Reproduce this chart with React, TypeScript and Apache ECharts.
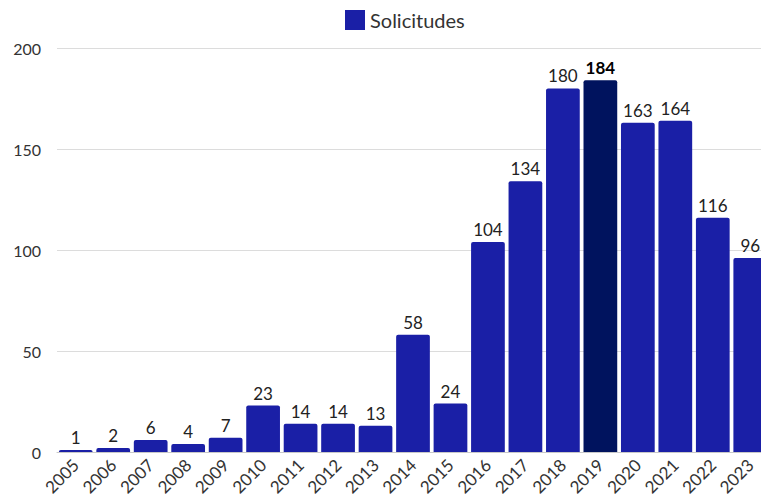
import React, { useEffect, useRef } from "react";
import * as echarts from "echarts";

const years = ["2005","2006","2007","2008","2009","2010","2011","2012","2013","2014","2015","2016","2017","2018","2019","2020","2021","2022","2023"];
const solicitudes = [1,2,6,4,7,23,14,14,13,58,24,104,134,180,184,163,164,116,96];
const highlightYear = "2019";

const FONT = "Lato";

export default function App() {
  const ref = useRef<HTMLDivElement>(null);
  useEffect(() => {
    if (!ref.current) return;
    const chart = echarts.init(ref.current, null, { renderer: "svg" });
    chart.setOption({
      animation: false,
      textStyle: { fontFamily: FONT },
      legend: {
        left: 340,
        top: 5,
        itemWidth: 20,
        itemHeight: 20,
        itemGap: 13,
        icon: "rect",
        textStyle: { fontSize: 20, color: "#333", fontFamily: FONT },
        data: ["Solicitudes"],
      },
      grid: { left: 57, top: 48, width: 712, bottom: 52, containLabel: false },
      xAxis: {
        type: "category",
        data: years,
        axisTick: { show: false },
        axisLine: { lineStyle: { color: "#c8c8c8", width: 1 } },
        axisLabel: { rotate: 45, fontSize: 17, color: "#333", margin: 10, interval: 0, fontFamily: FONT },
      },
      yAxis: {
        type: "value",
        min: 0,
        max: 200,
        interval: 50,
        axisLabel: { fontSize: 16, color: "#333", margin: 16, fontFamily: FONT },
        splitLine: { lineStyle: { color: "#dcdcdc", width: 1 } },
        axisLine: { show: false },
        axisTick: { show: false },
      },
      series: [
        {
          name: "Solicitudes",
          type: "bar",
          barCategoryGap: "10%",
          itemStyle: { color: "#1a1fa6", borderRadius: [2, 2, 0, 0] },
          data: solicitudes.map((v, i) =>
            years[i] === highlightYear
              ? {
                  value: v,
                  itemStyle: { color: "#00135e" },
                  label: { fontWeight: "bold", color: "#000" },
                }
              : v
          ),
          label: {
            show: true,
            position: "top",
            distance: 4,
            fontSize: 17,
            color: "#222",
            fontFamily: FONT,
          },
        },
      ],
    });
    return () => chart.dispose();
  }, []);
  return (
    <div style={{ position: "absolute", left: 0, top: 0, width: 761, height: 504, overflow: "hidden" }}>
      <div ref={ref} style={{ width: 790, height: 504 }} />
    </div>
  );
}
